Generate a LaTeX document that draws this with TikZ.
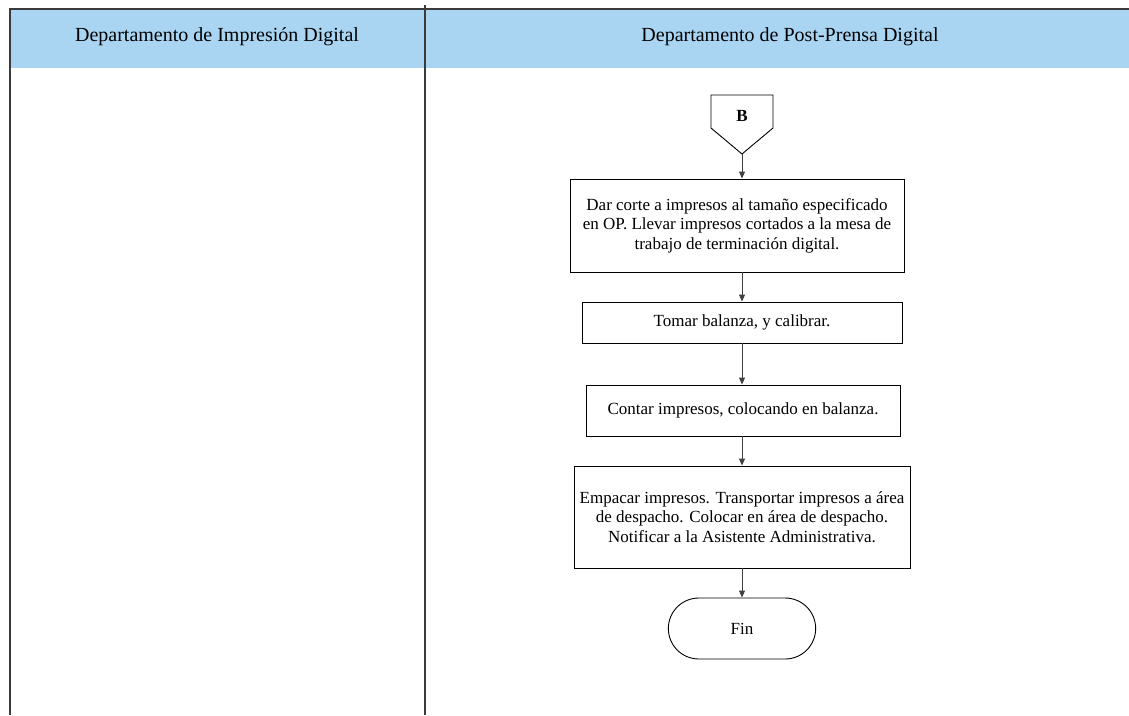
\documentclass[tikz,border=0pt]{standalone}
\usepackage{fontspec}
\setmainfont{Liberation Serif}
\usetikzlibrary{arrows.meta,shapes.misc}
\definecolor{lanehead}{HTML}{A9D5F3}
\definecolor{frameline}{HTML}{3A3A3A}
\begin{document}
\begin{tikzpicture}[x=1pt,y=-1pt,
  lanetitle/.style={font=\fontsize{20}{24}\selectfont, anchor=center},
  procbox/.style={draw=black, line width=0.9pt, align=center, inner sep=2pt,
    font=\fontsize{17}{19.5}\selectfont},
  endbox/.style={draw=black, line width=0.9pt, rounded rectangle,
    minimum width=154pt, minimum height=61pt, font=\fontsize{17}{19.5}\selectfont},
  flow/.style={draw=black!75, line width=0.9pt, -{Triangle[length=7pt,width=6pt]}}]
  \useasboundingbox (0,0) rectangle (1129,715);

  % swimlane header band and frame
  \fill[lanehead] (10,9) rectangle (1129,68);
  \draw[frameline, line width=2pt] (10,715) -- (10,9) -- (1129,9);
  \draw[frameline, line width=2pt] (425,5) -- (425,715);
  \node[lanetitle] (lane1) at (217,37) {Departamento de Impresión Digital};
  \node[lanetitle] (lane2) at (790,37) {Departamento de Post-Prensa Digital};

  % off-page connector B
  \draw[black, line width=0.9pt] (711,95) -- (773,95) -- (773,128) -- (742,154) -- (711,128) -- cycle;
  \node[font=\fontsize{17}{19.5}\selectfont\bfseries] (B) at (742,116) {B};
  \coordinate (Bout) at (742,154);

  % process steps
  \node[procbox, minimum width=334pt, minimum height=93pt] (s1) at (737,225.5)
    {Dar corte a impresos al tamaño especificado\\en OP. Llevar impresos cortados a la mesa de\\trabajo de terminación digital.};
  \node[procbox, minimum width=320pt, minimum height=41pt] (s2) at (742,322.5)
    {Tomar balanza, y calibrar.};
  \node[procbox, minimum width=314pt, minimum height=51pt] (s3) at (743,410.5)
    {Contar impresos, colocando en balanza.};
  \node[procbox, minimum width=336pt, minimum height=102pt] (s4) at (742,517)
    {Empacar impresos. Transportar impresos a área\\de despacho. Colocar en área de despacho.\\Notificar a la Asistente Administrativa.};
  \node[endbox] (fin) at (742,628.5) {Fin};

  % connectors
  \draw[flow] (Bout) -- (Bout |- s1.north);
  \draw[flow] (s1.south -| 742,0) -- (s2.north);
  \draw[flow] (s2.south) -- (s2.south |- s3.north);
  \draw[flow] (s3.south -| s4.north) -- (s4.north);
  \draw[flow] (s4.south) -- (fin.north);
\end{tikzpicture}
\end{document}
